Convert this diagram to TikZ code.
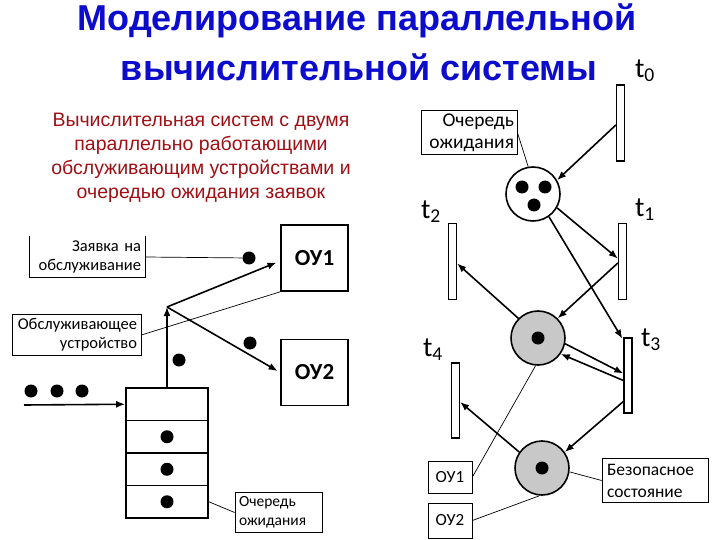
\documentclass[tikz,border=0pt]{standalone}
\usepackage{fontspec}
\setmainfont{Liberation Sans}
\newfontfamily\lbl{Carlito}
\usetikzlibrary{arrows.meta}
\definecolor{titleblue}{RGB}{12,12,205}
\definecolor{subred}{RGB}{160,15,20}
\definecolor{placegray}{RGB}{200,200,200}
\tikzset{
  arr/.style={line width=1.6pt, -{Latex[length=9pt,width=7pt]}},
  leader/.style={line width=0.7pt},
  lbox/.style={draw, line width=0.8pt, font=\lbl\fontsize{16.5}{19}\selectfont, inner sep=4pt},
  oubox/.style={draw, line width=1.6pt, minimum width=67pt, minimum height=66pt, font=\lbl\bfseries\fontsize{23}{26}\selectfont},
  tok/.style={circle, fill=black, minimum size=13pt, inner sep=0pt},
  place/.style={circle, draw, line width=1.6pt, minimum size=54pt, inner sep=0pt},
  trans/.style={draw, line width=1.3pt, minimum width=8pt, minimum height=76pt, inner sep=0pt},
  tlab/.style={font=\lbl\fontsize{28}{30}\selectfont},
  cell/.style={draw, line width=1.6pt, minimum width=82pt, minimum height=32.5pt, inner sep=0pt},
}
\begin{document}
\begin{tikzpicture}[x=1pt, y=-1pt]
\useasboundingbox (0,0) rectangle (720,540);
% title
\node[titleblue, font=\bfseries\fontsize{36}{40}\selectfont] (title1) at (357,21) {Моделирование параллельной};
\node[titleblue, font=\bfseries\fontsize{36}{40}\selectfont] (title2) at (359,67) {вычислительной системы};
\node[subred, align=center, font=\fontsize{19.5}{24}\selectfont] (sub) at (201,158)
  {Вычислительная систем с двумя\\параллельно работающими\\обслуживающим устройствами и\\очередью ожидания заявок};

% left: queueing scheme
\node[lbox, draw=none, text width=107pt, align=right] (req) at (87.5,257) {Заявка на\\обслуживание};
\draw[line width=0.8pt] (req.north west) -- (req.south west) -- (req.south east) -- (req.north east);
\node[lbox, text width=121pt, align=right] (serv) at (76.5,335) {Обслуживающее\\устройство};
\node[oubox] (ou1) at (314.5,258) {ОУ1};
\node[oubox] (ou2) at (314.5,372.5) {ОУ2};
\node[tok] (d1) at (249,258) {};
\node[tok] (d2) at (250,343) {};
\node[tok] (d3) at (179,360) {};
\node[tok] (w1) at (31,391) {};
\node[tok] (w2) at (57,391) {};
\node[tok] (w3) at (82,391) {};
\node[cell] (q1) at (167,404.25) {};
\node[cell] (q2) at (167,436.75) {};
\node[cell] (q3) at (167,469.25) {};
\node[cell] (q4) at (167,501.75) {};
\node[tok] at (q2) {};
\node[tok] at (q3) {};
\node[tok] at (q4) {};
\node[lbox, text width=79pt, align=left, font=\lbl\fontsize{15.5}{19}\selectfont] (qlab) at (278.5,512.5) {Очередь\\ожидания};
\coordinate (fork) at (167,307);
\coordinate (src) at (24,405);
\draw[arr] (src) -- (q1.west);
\draw[arr] (q1.north) -- (fork);
\draw[arr, shorten >=4pt] (fork) -- ([yshift=-3pt]ou1.west);
\draw[arr, shorten >=3pt] (fork) -- (ou2.west);
\draw[leader] (req.east) -- (d1);
\draw[leader] (serv.east) -- (ou1.south west);
\draw[leader] (q4.east) -- (qlab.west);

% right: Petri net
\node[trans] (t0) at (620.5,123) {};
\node[trans] (t1) at (622.5,261.5) {};
\node[trans] (t2) at (452.5,261.5) {};
\node[trans, minimum height=75pt] (t3) at (628,375.5) {};
\node[trans, minimum height=75pt] (t4) at (455.5,400.5) {};
\node[tlab] at (645,71) {t\textsubscript{0}};
\node[tlab] at (645,210) {t\textsubscript{1}};
\node[tlab] at (431,212) {t\textsubscript{2}};
\node[tlab] at (651,340) {t\textsubscript{3}};
\node[tlab] at (433,350) {t\textsubscript{4}};
\node[place] (p1) at (533,194) {};
\node[tok] at (522,187) {};
\node[tok] at (545,187) {};
\node[tok] at (534,205) {};
\node[place, fill=placegray] (p2) at (538,338) {};
\node[tok] at (p2) {};
\node[place, fill=placegray] (p3) at (542,468) {};
\node[tok] at (p3) {};
\node[lbox, text width=90pt, align=right, inner sep=3pt, font=\lbl\fontsize{19.5}{22}\selectfont] (qbox) at (469,132.5) {Очередь\\ожидания};
\node[lbox, minimum width=44pt, minimum height=32pt, inner sep=2pt, font=\lbl\fontsize{17}{19}\selectfont] (oua) at (450,477) {ОУ1};
\node[lbox, minimum width=44pt, minimum height=35pt, inner sep=2pt, font=\lbl\fontsize{17}{19}\selectfont] (oub) at (450,520.5) {ОУ2};
\node[lbox, text width=96pt, inner sep=5pt, align=left, font=\lbl\fontsize{17.5}{22}\selectfont] (safe) at (655,480.5) {Безопасное\\состояние};
\draw[arr] ([yshift=-2pt]t0.west) -- (p1.30);
\draw[arr] (p1.-30) -- ([yshift=3pt]t1.west);
\draw[arr, shorten >=2pt] (p1.-55) -- ([yshift=-3pt]t3.north west);
\draw[arr] ([yshift=-1.5pt]t1.west) -- (p2.45);
\draw[arr] (p2.135) -- ([yshift=-2pt]t2.east);
\draw[arr] (p2.-12) -- ([yshift=2pt]t3.west);
\draw[arr] ([yshift=-5pt]t3.west) -- (p2.-35);
\draw[arr] ([yshift=-26pt]t3.west) -- (p3.35);
\draw[arr] (p3.145) -- ([yshift=-1.5pt]t4.east);
\draw[leader] (qbox.east) -- (p1.100);
\draw[leader] (oua.east) -- (p2.-95);
\draw[leader] (oub.east) -- (p3.-95);
\draw[leader] (safe.west) -- (p3.-8);
\end{tikzpicture}
\end{document}
